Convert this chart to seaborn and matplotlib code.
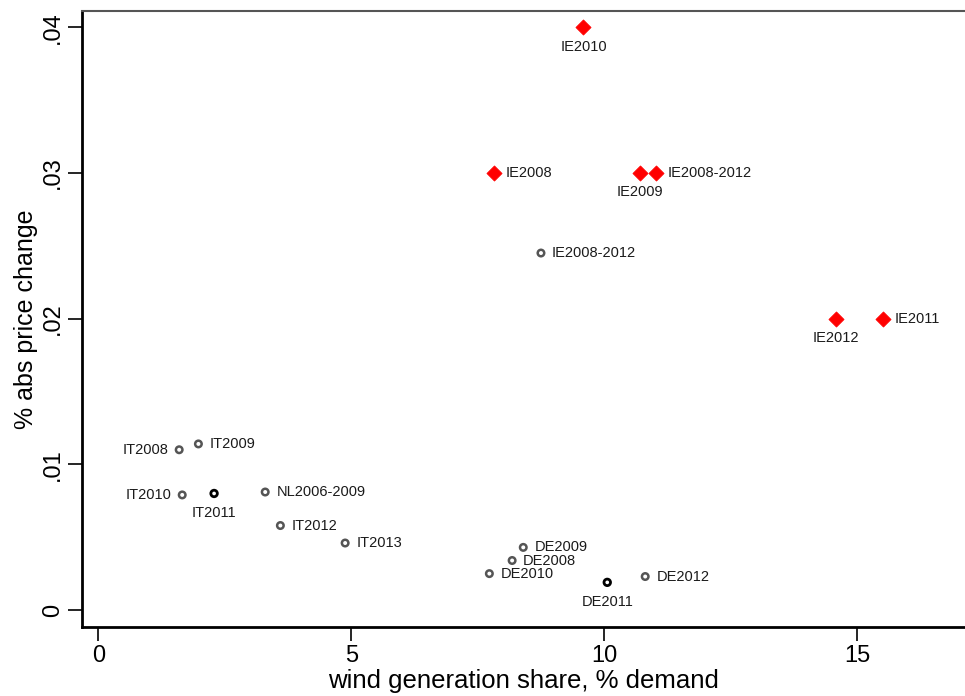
import numpy as np
import pandas as pd
import seaborn as sns
import matplotlib.pyplot as plt

# red diamonds (Ireland, alternative estimates)
ie_labels = ["IE2010", "IE2008", "IE2009", "IE2008-2012", "IE2012", "IE2011"]
ie_wind = [9.59, 7.83, 10.71, 11.03, 14.58, 15.51]
ie_price = [0.040, 0.030, 0.030, 0.030, 0.020, 0.020]
ie_pos = ["below", "right", "below", "right", "below", "right"]

# hollow circles (other markets)
ot_labels = ["IE2008-2012", "IT2008", "IT2009", "IT2010", "IT2011", "NL2006-2009",
             "IT2012", "IT2013", "DE2009", "DE2008", "DE2010", "DE2011", "DE2012"]
ot_wind = [8.75, 1.60, 1.98, 1.66, 2.29, 3.30, 3.60, 4.88, 8.40, 8.18, 7.73, 10.06, 10.81]
ot_price = [0.0245, 0.0110, 0.0114, 0.0079, 0.0080, 0.0081, 0.0058, 0.0046,
            0.0043, 0.0034, 0.0025, 0.0019, 0.0023]
ot_pos = ["right", "left", "right", "left", "below", "right",
          "right", "right", "right", "right", "right", "below", "right"]
ot_dark = [False, False, False, False, True, False, False, False, False, False, False, True, False]

ie = pd.DataFrame({"label": ie_labels, "x": ie_wind, "y": ie_price, "pos": ie_pos})
ot = pd.DataFrame({"label": ot_labels, "x": ot_wind, "y": ot_price, "pos": ot_pos, "dark": ot_dark})

sns.set_style("white")
plt.rcParams['font.family'] = ['Liberation Sans', 'DejaVu Sans']

fig = plt.figure(figsize=(9.65, 6.96), dpi=100)
ax = fig.add_axes([0.085, 0.099, 0.915, 0.885])

light = ot[~ot["dark"]]
dark = ot[ot["dark"]]
sns.scatterplot(data=light, x="x", y="y", ax=ax, marker="o", s=22,
                facecolors="none", edgecolor="#555555", linewidth=1.8, zorder=3)
sns.scatterplot(data=dark, x="x", y="y", ax=ax, marker="o", s=22,
                facecolors="none", edgecolor="black", linewidth=2.0, zorder=3)
sns.scatterplot(data=ie, x="x", y="y", ax=ax, marker="D", s=60,
                color="red", edgecolor="red", linewidth=0.5, zorder=4)

offsets = {"right": ((8, 0), "left", "center"),
           "left": ((-8, 0), "right", "center"),
           "below": ((0, -9), "center", "top")}
for df in (ie, ot):
    for _, r in df.iterrows():
        off, ha, va = offsets[r["pos"]]
        ax.annotate(r["label"], (r["x"], r["y"]), xytext=off, textcoords="offset points",
                    ha=ha, va=va, fontsize=10.5, color="#1a1a1a")

ax.set_xlim(-0.32, 17.13)
ax.set_ylim(-0.00117, 0.0411)
ax.set_xticks([0, 5, 10, 15])
ax.set_yticks([0, 0.01, 0.02, 0.03, 0.04])
ax.set_yticklabels(["0", ".01", ".02", ".03", ".04"], rotation=90, va="center")
ax.tick_params(axis="both", direction="out", length=10, width=1.2, labelsize=17,
               left=True, bottom=True, color="black", labelcolor="black", pad=3)
ax.set_xlabel("wind generation share, % demand", fontsize=18.5, labelpad=1, color="black")
ax.set_ylabel("% abs price change", fontsize=18, labelpad=3, color="black")

for side in ("left", "bottom"):
    ax.spines[side].set_color("black")
    ax.spines[side].set_linewidth(2)
ax.spines["top"].set_color("#555555")
ax.spines["top"].set_linewidth(1.5)
ax.spines["right"].set_visible(False)

fig.savefig("out.png", dpi=100)
